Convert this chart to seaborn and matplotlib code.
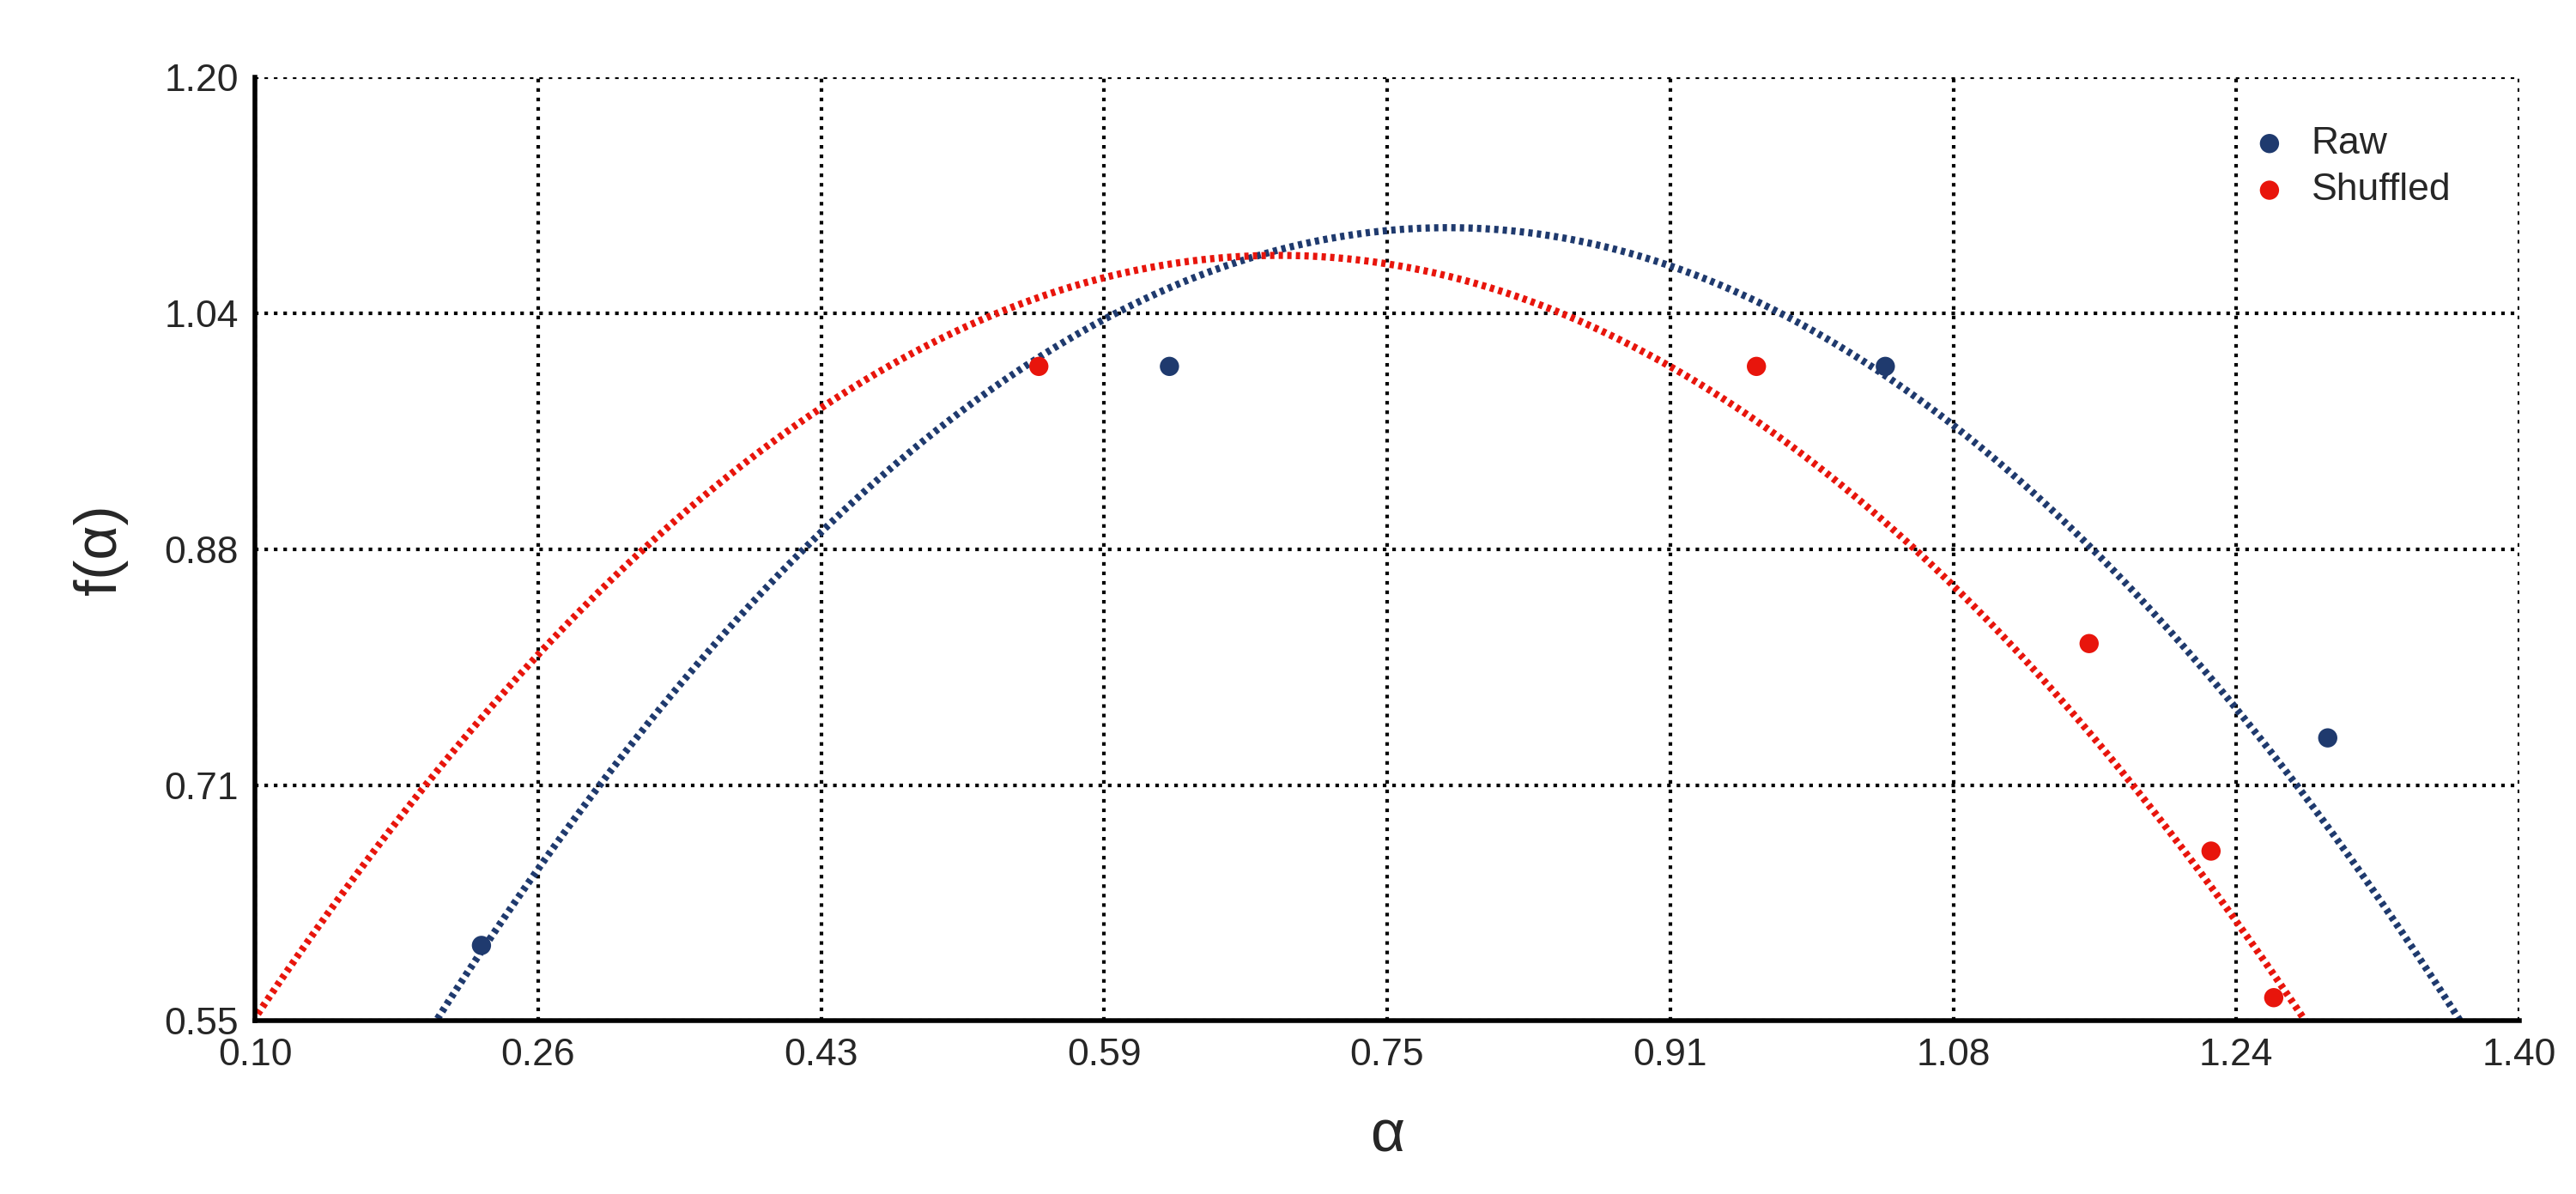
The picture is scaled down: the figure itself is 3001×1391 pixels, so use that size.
import numpy as np
import matplotlib
matplotlib.use("Agg")
import matplotlib.pyplot as plt
import seaborn as sns

raw_x = [0.230, 0.625, 1.036, 1.290]
raw_y = [0.602, 1.001, 1.001, 0.745]
shuf_x = [0.550, 0.962, 1.153, 1.223, 1.259]
shuf_y = [1.001, 1.001, 0.810, 0.667, 0.566]
# trendline (quadratic): vertex x, vertex y, curvature
raw_trend = [0.785, 1.0966, 1.619]
shuf_trend = [0.688, 1.0775, 1.52]
xticks = [0.10, 0.26, 0.43, 0.59, 0.75, 0.91, 1.08, 1.24, 1.40]
yticks = [0.55, 0.71, 0.88, 1.04, 1.20]

sns.set_theme(style="white")
plt.rcParams['font.family'] = ['Liberation Sans', 'DejaVu Sans']

fig = plt.figure(figsize=(30.01, 13.91), dpi=100)
ax = fig.add_axes([0.099, 0.145, 0.879, 0.79])

blue = "#1f3a6e"
red = "#e8150c"
xs = np.linspace(0.0, 1.5, 600)
for (h, k, a), c in [(raw_trend, blue), (shuf_trend, red)]:
    ax.plot(xs, k - a * (xs - h) ** 2, ls=(0, (0.6, 0.6)), lw=6, color=c, zorder=2)

sns.scatterplot(x=raw_x, y=raw_y, color=blue, s=260, edgecolor="none", ax=ax, label="Raw", zorder=3)
sns.scatterplot(x=shuf_x, y=shuf_y, color=red, s=260, edgecolor="none", ax=ax, label="Shuffled", zorder=3)

ax.set_xlim(0.10, 1.40)
ax.set_ylim(0.55, 1.20)
ax.set_xticks(np.linspace(0.10, 1.40, 9))
ax.set_xticklabels([f"{v:.2f}" for v in xticks])
ax.set_yticks(np.linspace(0.55, 1.20, 5))
ax.set_yticklabels([f"{v:.2f}" for v in yticks])
ax.grid(True, ls=":", color="black", lw=3)
ax.tick_params(labelsize=32, length=0, pad=14)
for s in ["top", "right"]:
    ax.spines[s].set_visible(False)
for s in ["left", "bottom"]:
    ax.spines[s].set_color("black")
    ax.spines[s].set_linewidth(4)
ax.set_xlabel("α", fontsize=50, labelpad=30)
ax.set_ylabel("f(α)", fontsize=50, labelpad=30)
ax.legend(loc="upper right", bbox_to_anchor=(0.985, 0.985), frameon=False, fontsize=32,
          handletextpad=0.1, labelspacing=0.3, markerscale=1.0)
fig.savefig("out.png", dpi=100)
